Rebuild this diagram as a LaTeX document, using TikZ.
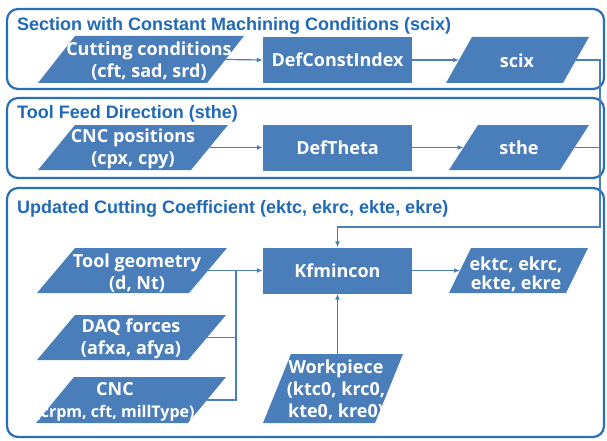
\documentclass[tikz,border=0pt]{standalone}
\usepackage{fontspec}
\setmainfont{Open Sans}
\newfontfamily\titlefont{Liberation Sans}
\usetikzlibrary{arrows.meta}
\definecolor{pblue}{RGB}{74,126,187}
\definecolor{frameblue}{RGB}{40,112,182}
\definecolor{titleblue}{RGB}{31,105,185}
\newcommand{\pgramshape}[6]{% name, x bottom-left, y top, y bottom, width, slant
  \fill[pblue] (#2,#4) -- ({#2+#6},#3) -- ({#2+#6+#5},#3) -- ({#2+#5},#4) -- cycle;
  \coordinate (#1-e) at ({#2+#5+#6/2},{(#3+#4)/2});
  \coordinate (#1-w) at ({#2+#6/2},{(#3+#4)/2});
  \coordinate (#1-top) at ({#2+#6+#5/2},#3);
}
\begin{document}
\begin{tikzpicture}[x=1pt,y=-1pt,
  secbox/.style={draw=frameblue, line width=2.2pt, rounded corners=11pt},
  sectitle/.style={anchor=base west, inner sep=0pt, text=titleblue,
    font=\titlefont\bfseries\fontsize{18}{20}\selectfont},
  ptext/.style={text=white, align=center, inner sep=0pt,
    font=\bfseries\fontsize{18}{22.5}\selectfont},
  procbox/.style={ptext, fill=pblue, minimum width=149pt, minimum height=46pt},
  conn/.style={draw=pblue, line width=1.2pt},
  arr/.style={conn, -{Latex[length=6pt,width=5pt]}}]
\useasboundingbox (0,0) rectangle (607,441);

% section frames
\draw[secbox] (7,9) rectangle (604,89);
\draw[secbox] (7,98) rectangle (604,178);
\draw[secbox] (7,188) rectangle (604,437);
\node[sectitle] (t1) at (17,31) {Section with Constant Machining Conditions (scix)};
\node[sectitle] (t2) at (17,118) {Tool Feed Direction (sthe)};
\node[sectitle] (t3) at (17,213) {Updated Cutting Coefficient (ektc, ekrc, ekte, ekre)};

% section 1
\pgramshape{cut}{38}{36}{83}{169}{37}
\node[ptext] (cut) at (149,61) {Cutting conditions\\(cft, sad, srd)};
\node[procbox] (dci) at (337.5,60) {DefConstIndex};
\pgramshape{scix}{446}{37}{83}{117}{26}
\node[ptext] (scix) at (517,61) {scix};

% section 2
\pgramshape{cncpos}{38}{125}{170}{153}{37}
\node[ptext] (cncpos) at (133,149) {CNC positions\\(cpx, cpy)};
\node[procbox] (dth) at (337.5,147.5) {DefTheta};
\pgramshape{sthe}{449}{125}{170}{111}{29}
\node[ptext] (sthe) at (519,148) {sthe};

% section 3
\pgramshape{tool}{37}{248}{293}{152}{38}
\node[ptext] (tool) at (137,273) {Tool geometry\\(d, Nt)};
\node[procbox] (kf) at (337.5,270.5) {Kfmincon};
\pgramshape{ek}{449}{248}{293}{117}{22}
\node[ptext, font=\bfseries\fontsize{18}{19}\selectfont] (ek) at (516,274) {ektc, ekrc,\\ekte, ekre};
\pgramshape{daq}{37}{315}{360}{151}{38}
\node[ptext] (daq) at (131,339) {DAQ forces\\(afxa, afya)};
\pgramshape{cnc}{36}{377}{423}{152}{38}
\node[ptext] (cnc) at (115,402) {CNC\\{\fontsize{16}{22.5}\selectfont(crpm, cft, millType)}};
\pgramshape{wp}{263}{354}{423}{112}{28}
\node[ptext, font=\bfseries\fontsize{18}{22}\selectfont] (wp) at (336,390) {Workpiece\\(ktc0, krc0,\\kte0, kre0)};

% connectors
\coordinate (fbturn) at (600,227);
\coordinate (bus) at (236,300);
\draw[arr] (cut-e) -- (dci.west);
\draw[arr] (dci.east) -- (scix-w);
\draw[arr] (cncpos-e) -- (dth.west);
\draw[arr] (dth.east) -- (sthe-w);
\draw[conn] (sthe-e) -- (sthe-e -| fbturn);
\draw[arr] (scix-e) -- (scix-e -| fbturn) -- (fbturn) -| (kf.north);
\draw[arr] (tool-e) -- (kf.west);
\draw[conn] (daq-e) -- (daq-e -| bus);
\draw[conn] (cnc-e) -- (cnc-e -| bus) -- (tool-e -| bus);
\draw[arr] (kf.east) -- (ek-w);
\draw[arr] (kf.south |- wp-top) -- (kf.south);
\end{tikzpicture}
\end{document}
